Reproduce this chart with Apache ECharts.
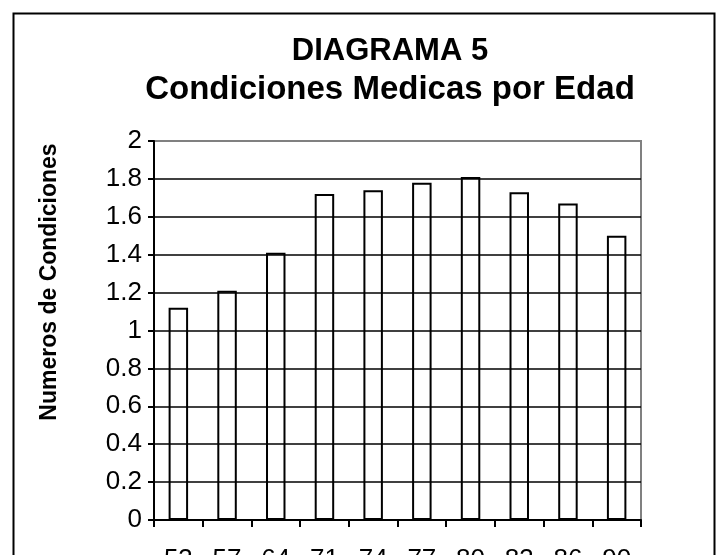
<!DOCTYPE html>
<html>
<head>
<meta charset="utf-8">
<script src="https://cdn.jsdelivr.net/npm/echarts@6/dist/echarts.min.js"></script>
<style>
html,body{margin:0;padding:0;background:#fff;}
#chart{width:722px;height:555px;}
</style>
</head>
<body>
<div id="chart"></div>
<script>
const categories = ['53', '57', '64', '71', '74', '77', '80', '83', '86', '90'];
const values = [1.12, 1.21, 1.41, 1.72, 1.74, 1.78, 1.81, 1.73, 1.67, 1.50];
const yTicks = [0, 0.2, 0.4, 0.6, 0.8, 1, 1.2, 1.4, 1.6, 1.8, 2];
const titleText = 'DIAGRAMA 5';
const subtitleText = 'Condiciones Medicas por Edad';
const yAxisTitle = 'Numeros de Condiciones';

const font = '"Liberation Sans", Arial, Helvetica, sans-serif';
const chart = echarts.init(document.getElementById('chart'), null, {renderer: 'canvas'});
const gridColors = yTicks.map((v, i) => i === yTicks.length - 1 ? '#808080' : '#000');

chart.setOption({
  backgroundColor: '#fff',
  animation: false,
  title: {
    text: titleText,
    subtext: subtitleText,
    left: 385, top: 31, textAlign: 'center', itemGap: 6,
    textStyle: {fontFamily: font, fontWeight: 'bold', fontSize: 31, color: '#000'},
    subtextStyle: {fontFamily: font, fontWeight: 'bold', fontSize: 33, color: '#000'}
  },
  graphic: [{
    type: 'rect', left: 11, top: 11,
    shape: {width: 701, height: 560},
    style: {fill: 'none', stroke: '#000', lineWidth: 2},
    silent: true, z: 100
  }, {
    type: 'text', x: 50, y: 282, rotation: Math.PI / 2,
    style: {text: yAxisTitle, fontFamily: font, fontWeight: 'bold', fontSize: 23,
      fill: '#000', textAlign: 'center', textVerticalAlign: 'middle'},
    silent: true
  }],
  grid: {
    left: 154, right: 81, top: 141, bottom: 35,
    containLabel: false, outerBoundsMode: 'none',
    show: true, borderColor: '#808080', borderWidth: 2
  },
  xAxis: {
    type: 'category',
    data: categories,
    axisLine: {lineStyle: {color: '#000', width: 2}},
    axisTick: {show: true, alignWithLabel: false, length: 7, lineStyle: {color: '#000', width: 2}},
    axisLabel: {fontFamily: font, fontSize: 26, color: '#000', margin: 27},
    z: 10
  },
  yAxis: {
    type: 'value',
    min: 0, max: 2, interval: 0.2,
    axisLine: {show: true, lineStyle: {color: '#000', width: 2}},
    axisTick: {show: true, length: 6, lineStyle: {color: '#000', width: 2}},
    axisLabel: {fontFamily: font, fontSize: 26, color: '#000', margin: 12,
      formatter: v => String(Math.round(v * 10) / 10)},
    splitLine: {show: true, lineStyle: {color: gridColors, width: 1.5}},
    z: 10
  },
  series: [{
    type: 'bar',
    data: values,
    barWidth: '40%',
    itemStyle: {color: '#fff', borderColor: '#000', borderWidth: 2},
    z: 5
  }]
});
</script>
</body>
</html>
